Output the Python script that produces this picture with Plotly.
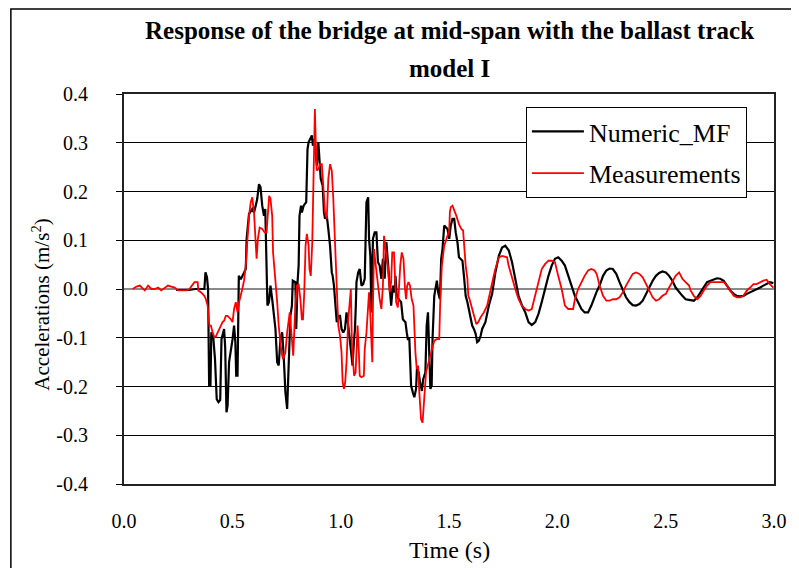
import plotly.graph_objects as go

# ---------------- data ----------------
t_num = [0.24, 0.30, 0.33, 0.371, 0.376, 0.383, 0.388, 0.393, 0.399, 0.403,
         0.412, 0.420, 0.428, 0.436, 0.444, 0.450, 0.462, 0.467, 0.473, 0.478,
         0.485, 0.493, 0.501, 0.508, 0.514, 0.518, 0.524, 0.530, 0.539, 0.550,
         0.562, 0.566, 0.577, 0.592, 0.600, 0.608, 0.615, 0.623, 0.630, 0.638,
         0.646, 0.652, 0.658, 0.662, 0.669, 0.676, 0.684, 0.691, 0.699, 0.707,
         0.714, 0.722, 0.730, 0.737, 0.745, 0.753, 0.760, 0.768, 0.775, 0.779,
         0.791, 0.795, 0.801, 0.806, 0.810, 0.817, 0.821, 0.829, 0.841, 0.847,
         0.852, 0.860, 0.867, 0.872, 0.878, 0.882, 0.890, 0.897, 0.902, 0.908,
         0.917, 0.923, 0.928, 0.936, 0.943, 0.951, 0.959, 0.963, 0.969, 0.975,
         0.982, 0.989, 0.997, 1.004, 1.012, 1.020, 1.027, 1.035, 1.043, 1.050,
         1.055, 1.061, 1.066, 1.070, 1.073, 1.081, 1.088, 1.096, 1.104, 1.111,
         1.119, 1.127, 1.131, 1.137, 1.142, 1.149, 1.157, 1.165, 1.172, 1.180,
         1.188, 1.195, 1.203, 1.211, 1.218, 1.226, 1.233, 1.241, 1.249, 1.253,
         1.259, 1.268, 1.279, 1.287, 1.299, 1.305, 1.310, 1.317, 1.320, 1.325,
         1.333, 1.340, 1.348, 1.352, 1.360, 1.366, 1.375, 1.381, 1.391, 1.397,
         1.403, 1.409, 1.414, 1.420, 1.424, 1.432, 1.437, 1.444, 1.450, 1.458,
         1.464, 1.470, 1.478, 1.485, 1.493, 1.501, 1.508, 1.516, 1.524, 1.531,
         1.539, 1.546, 1.562, 1.569, 1.577, 1.585, 1.592, 1.600, 1.607, 1.615,
         1.623, 1.630, 1.638, 1.646, 1.653, 1.668, 1.684, 1.699, 1.714, 1.730,
         1.745, 1.760, 1.776, 1.791, 1.806, 1.821, 1.837, 1.852, 1.867, 1.882,
         1.898, 1.913, 1.928, 1.943, 1.959, 1.974, 1.989, 2.004, 2.020, 2.035,
         2.050, 2.065, 2.081, 2.096, 2.111, 2.126, 2.142, 2.157, 2.172, 2.182,
         2.195, 2.211, 2.226, 2.241, 2.256, 2.272, 2.287, 2.302, 2.317, 2.333,
         2.348, 2.363, 2.379, 2.394, 2.409, 2.424, 2.440, 2.455, 2.470, 2.485,
         2.501, 2.516, 2.531, 2.546, 2.562, 2.577, 2.592, 2.608, 2.630, 2.646,
         2.661, 2.676, 2.691, 2.707, 2.722, 2.737, 2.752, 2.768, 2.783, 2.798,
         2.814, 2.829, 2.844, 2.859, 2.875, 2.890, 2.905, 2.920, 2.936, 2.951,
         2.966, 2.981, 2.997]
a_num = [-0.002, -0.002, 0.0, 0.0, 0.034, 0.024, 0.0, -0.198, -0.198, -0.089,
         -0.099, -0.144, -0.226, -0.232, -0.228, -0.103, -0.082, -0.120, -0.253, -0.240,
         -0.150, -0.130, -0.103, -0.075, -0.110, -0.178, -0.178, 0.027, 0.020, 0.030,
         0.041, 0.103, 0.154, 0.164, 0.157, 0.171, 0.185, 0.215, 0.209, 0.171,
         0.150, 0.164, 0.007, -0.034, -0.027, 0.007, -0.021, -0.058, -0.082, -0.150,
         -0.157, -0.103, -0.089, -0.137, -0.212, -0.246, -0.157, -0.055, -0.034, 0.017,
         0.014, -0.082, 0.014, 0.048, 0.150, 0.171, 0.157, 0.171, 0.178, 0.287,
         0.301, 0.308, 0.315, 0.294, 0.308, 0.294, 0.253, 0.301, 0.253, 0.226,
         0.212, 0.157, 0.144, 0.150, 0.123, 0.089, 0.034, 0.027, 0.007, -0.027,
         -0.068, -0.055, -0.055, -0.082, -0.089, -0.082, -0.048, -0.075, -0.103, -0.137,
         -0.157, -0.109, -0.082, -0.034, 0.014, 0.034, 0.041, 0.007, 0.010, 0.021,
         0.178, 0.188, 0.103, 0.068, -0.048, 0.103, 0.116, 0.116, 0.055, 0.048,
         0.021, 0.062, 0.021, 0.096, 0.055, -0.007, -0.034, 0.007, -0.007, 0.027,
         -0.014, -0.021, -0.027, -0.062, -0.068, -0.089, -0.103, -0.103, -0.157, -0.198,
         -0.212, -0.222, -0.205, -0.164, -0.171, -0.191, -0.209, -0.185, -0.171, -0.075,
         -0.048, -0.130, -0.205, -0.198, -0.103, -0.014, 0.0, 0.017, -0.007, -0.021,
         0.062, 0.082, 0.130, 0.126, 0.123, 0.103, 0.130, 0.144, 0.144, 0.116,
         0.096, 0.065, 0.058, 0.027, -0.014, -0.027, -0.041, -0.055, -0.075, -0.082,
         -0.092, -0.109, -0.106, -0.096, -0.082, -0.068, -0.034, -0.010, 0.034, 0.068,
         0.085, 0.089, 0.079, 0.055, 0.021, -0.014, -0.034, -0.048, -0.068, -0.074,
         -0.068, -0.051, -0.027, 0.0, 0.027, 0.048, 0.062, 0.065, 0.058, 0.048,
         0.027, 0.007, -0.014, -0.027, -0.041, -0.048, -0.048, -0.034, -0.014, -0.005,
         0.007, 0.027, 0.038, 0.042, 0.041, 0.031, 0.014, -0.003, -0.017, -0.027,
         -0.033, -0.034, -0.031, -0.024, -0.010, 0.003, 0.017, 0.027, 0.033, 0.036,
         0.034, 0.027, 0.017, 0.003, -0.007, -0.014, -0.021, -0.022, -0.024, -0.017,
         -0.007, 0.003, 0.014, 0.017, 0.019, 0.022, 0.021, 0.017, 0.007, -0.003,
         -0.010, -0.014, -0.015, -0.014, -0.010, -0.007, -0.003, 0.0, 0.003, 0.007,
         0.010, 0.014, 0.012]

t_meas = [0.040, 0.058, 0.073, 0.089, 0.096, 0.111, 0.127, 0.142, 0.157, 0.172,
          0.188, 0.203, 0.218, 0.234, 0.249, 0.272, 0.287, 0.302, 0.317, 0.325,
          0.340, 0.343, 0.356, 0.371, 0.378, 0.386, 0.394, 0.401, 0.409, 0.417,
          0.424, 0.432, 0.440, 0.447, 0.455, 0.462, 0.470, 0.478, 0.485, 0.493,
          0.501, 0.508, 0.516, 0.524, 0.531, 0.539, 0.546, 0.554, 0.562, 0.569,
          0.577, 0.585, 0.592, 0.600, 0.608, 0.612, 0.618, 0.626, 0.638, 0.649,
          0.658, 0.664, 0.670, 0.676, 0.684, 0.688, 0.699, 0.707, 0.714, 0.722,
          0.727, 0.734, 0.740, 0.745, 0.753, 0.760, 0.765, 0.771, 0.781, 0.791,
          0.798, 0.806, 0.814, 0.821, 0.826, 0.832, 0.838, 0.844, 0.852, 0.856,
          0.862, 0.869, 0.875, 0.881, 0.885, 0.890, 0.898, 0.905, 0.913, 0.920,
          0.928, 0.936, 0.943, 0.951, 0.959, 0.966, 0.974, 0.978, 0.985, 0.989,
          0.997, 1.004, 1.009, 1.015, 1.021, 1.027, 1.035, 1.043, 1.047, 1.052,
          1.058, 1.062, 1.069, 1.073, 1.078, 1.084, 1.088, 1.096, 1.107, 1.111,
          1.119, 1.127, 1.131, 1.137, 1.142, 1.146, 1.149, 1.154, 1.162, 1.168,
          1.174, 1.180, 1.188, 1.195, 1.200, 1.204, 1.211, 1.218, 1.223, 1.226,
          1.233, 1.238, 1.246, 1.256, 1.264, 1.268, 1.275, 1.282, 1.290, 1.297,
          1.302, 1.307, 1.313, 1.320, 1.328, 1.336, 1.340, 1.345, 1.351, 1.357,
          1.363, 1.371, 1.378, 1.383, 1.389, 1.394, 1.406, 1.417, 1.424, 1.432,
          1.443, 1.455, 1.459, 1.467, 1.478, 1.488, 1.501, 1.504, 1.508, 1.516,
          1.523, 1.534, 1.546, 1.557, 1.565, 1.569, 1.577, 1.585, 1.589, 1.595,
          1.604, 1.612, 1.620, 1.626, 1.635, 1.646, 1.661, 1.676, 1.691, 1.705,
          1.714, 1.730, 1.745, 1.768, 1.775, 1.791, 1.806, 1.821, 1.836, 1.852,
          1.867, 1.882, 1.898, 1.913, 1.928, 1.943, 1.959, 1.974, 1.989, 2.004,
          2.020, 2.035, 2.050, 2.073, 2.081, 2.096, 2.111, 2.126, 2.142, 2.157,
          2.172, 2.182, 2.195, 2.211, 2.226, 2.241, 2.256, 2.272, 2.287, 2.302,
          2.317, 2.333, 2.348, 2.363, 2.379, 2.394, 2.409, 2.424, 2.440, 2.455,
          2.470, 2.485, 2.501, 2.516, 2.531, 2.546, 2.562, 2.577, 2.592, 2.608,
          2.615, 2.630, 2.646, 2.661, 2.676, 2.691, 2.707, 2.737, 2.768, 2.783,
          2.798, 2.814, 2.829, 2.844, 2.859, 2.875, 2.890, 2.905, 2.920, 2.936,
          2.951, 2.966, 2.981, 2.997]
a_meas = [0.0, 0.005, 0.007, 0.0, -0.003, 0.007, 0.0, 0.0, 0.003, -0.003,
          0.003, 0.007, 0.005, 0.003, -0.003, -0.003, -0.003, 0.0, 0.010, 0.014,
          0.014, -0.003, -0.007, -0.014, -0.021, -0.034, -0.075, -0.075, -0.089, -0.099,
          -0.097, -0.089, -0.082, -0.075, -0.068, -0.065, -0.055, -0.055, -0.058, -0.062,
          -0.068, -0.041, -0.027, -0.048, -0.027, -0.014, 0.0, 0.017, 0.048, 0.096,
          0.150, 0.178, 0.188, 0.157, 0.103, 0.062, 0.103, 0.126, 0.123, 0.116,
          0.116, 0.157, 0.191, 0.185, 0.150, 0.075, 0.021, -0.027, -0.075, -0.109,
          -0.130, -0.144, -0.137, -0.130, -0.089, -0.062, -0.048, -0.082, -0.137, -0.034,
          0.007, 0.010, -0.021, -0.062, -0.062, -0.007, 0.089, 0.113, 0.089, 0.041,
          0.027, 0.096, 0.267, 0.369, 0.301, 0.243, 0.246, 0.256, 0.256, 0.212,
          0.157, 0.144, 0.226, 0.256, 0.243, 0.185, 0.103, 0.048, -0.021, -0.075,
          -0.096, -0.130, -0.191, -0.205, -0.191, -0.150, -0.062, -0.014, 0.0, -0.116,
          -0.157, -0.178, -0.171, -0.116, -0.075, -0.130, -0.178, -0.181, -0.178, -0.123,
          -0.089, -0.034, -0.007, -0.055, -0.109, -0.150, -0.034, 0.082, 0.048, 0.021,
          0.0, -0.021, -0.041, 0.007, 0.109, 0.089, 0.068, 0.048, 0.014, -0.007,
          0.014, 0.075, 0.075, -0.027, -0.038, 0.007, 0.048, 0.075, 0.062, 0.0,
          -0.021, 0.007, 0.014, 0.007, -0.021, -0.034, -0.089, -0.130, -0.164, -0.157,
          -0.212, -0.267, -0.274, -0.239, -0.191, -0.171, -0.150, -0.130, -0.123, -0.106,
          -0.103, -0.103, -0.034, 0.048, 0.089, 0.103, 0.120, 0.157, 0.168, 0.171,
          0.164, 0.150, 0.133, 0.123, 0.120, 0.096, 0.048, 0.021, -0.014, -0.021,
          -0.034, -0.048, -0.062, -0.072, -0.068, -0.058, -0.048, -0.034, -0.007, 0.024,
          0.041, 0.065, 0.068, 0.065, 0.048, 0.021, 0.0, -0.021, -0.034, -0.041,
          -0.044, -0.041, -0.014, 0.014, 0.041, 0.051, 0.058, 0.058, 0.055, 0.027,
          0.0, -0.034, -0.041, -0.041, -0.021, 0.0, 0.014, 0.027, 0.038, 0.041,
          0.038, 0.030, 0.007, -0.014, -0.024, -0.024, -0.021, -0.021, -0.017, -0.007,
          0.007, 0.021, 0.031, 0.034, 0.031, 0.024, 0.010, -0.003, -0.017, -0.024,
          -0.021, -0.014, -0.010, 0.003, 0.014, 0.027, 0.034, 0.021, 0.014, 0.007,
          -0.003, -0.014, -0.021, -0.014, -0.003, 0.007, 0.014, 0.014, 0.014, 0.007,
          -0.003, -0.014, -0.017, -0.017, -0.014, -0.003, 0.003, 0.010, 0.010, 0.014,
          0.017, 0.019, 0.010, 0.003]

assert len(t_num) == len(a_num), (len(t_num), len(a_num))
assert len(t_meas) == len(a_meas), (len(t_meas), len(a_meas))

series_names = ["Numeric_MF", "Measurements"]
series_colors = ["#000000", "#ff0000"]

x_ticks = [0.0, 0.5, 1.0, 1.5, 2.0, 2.5, 3.0]
x_ticktext = ["0.0", "0.5", "1.0", "1.5", "2.0", "2.5", "3.0"]
y_ticks = [-0.4, -0.3, -0.2, -0.1, 0.0, 0.1, 0.2, 0.3, 0.4]
y_ticktext = ["-0.4", "-0.3", "-0.2", "-0.1", "0.0", "0.1", "0.2", "0.3", "0.4"]
zero_ticks = [0.25 * i for i in range(1, 12)]

title_lines = ["Response of the bridge at mid-span with the ballast track", "model I"]
x_title = "Time (s)"
y_title = "Accelerations (m/s<sup>2</sup>)"

FONT = "Liberation Serif, Times New Roman, serif"

fig = go.Figure()
fig.add_trace(go.Scatter(x=t_num, y=a_num, mode="lines", name=series_names[0],
                         line=dict(color=series_colors[0], width=2.2),
                         legendgroup="a"))
fig.add_trace(go.Scatter(x=t_meas, y=a_meas, mode="lines", name=series_names[1],
                         line=dict(color=series_colors[1], width=1.8),
                         legendgroup="b"))

# the page body has an 8 px margin: figure is sized so it ends at the window edge
OFF = 8
W, H = 799 - OFF, 568 - OFF
PL, PR, PT, PB = 124, 779, 94, 484          # plot area in page pixels
L, R, T, B = PL - OFF, W - (PR - OFF), PT - OFF, H - (PB - OFF)
pw, ph = PR - PL, PB - PT


def px_x(x):
    return (x - PL) / pw


def px_y(y):
    return (PB - y) / ph


fig.update_layout(
    width=W, height=H,
    margin=dict(l=L, r=R, t=T, b=B),
    paper_bgcolor="white", plot_bgcolor="white",
    font=dict(family=FONT, color="black", size=20),
    showlegend=True,
    legend=dict(x=px_x(529), y=px_y(107), xanchor="left", yanchor="top",
                bgcolor="white", bordercolor="black", borderwidth=1,
                font=dict(family=FONT, size=26, color="black"),
                traceorder="grouped", tracegroupgap=5,
                itemwidth=52),
    xaxis=dict(range=[0, 3], tickvals=x_ticks, ticktext=x_ticktext,
               showgrid=False, zeroline=False, ticks="",
               showline=True, mirror=True, linecolor="#222", linewidth=2,
               ticklabelstandoff=18,
               tickfont=dict(family=FONT, size=20)),
    xaxis2=dict(range=[0, 3], overlaying="x", anchor="free", position=0.5,
                side="top", tickvals=zero_ticks, ticks="outside", ticklen=5,
                tickcolor="#333", showticklabels=False, showgrid=False,
                zeroline=False, showline=False),
    yaxis=dict(range=[-0.4, 0.4], tickvals=y_ticks, ticktext=y_ticktext,
               showgrid=True, gridcolor="black", gridwidth=1,
               zeroline=True, zerolinecolor="#8a8a8a", zerolinewidth=2,
               ticks="outside", ticklen=6, tickcolor="black",
               showline=True, mirror=True, linecolor="#222", linewidth=2,
               ticklabelstandoff=24,
               tickfont=dict(family=FONT, size=20)),
    annotations=[
        dict(text="<b>%s</b>" % title_lines[0], x=px_x(452), y=px_y(31),
             xref="paper", yref="paper", showarrow=False,
             font=dict(family=FONT, size=25), xanchor="center", yanchor="middle"),
        dict(text="<b>%s</b>" % title_lines[1], x=px_x(452), y=px_y(68),
             xref="paper", yref="paper", showarrow=False,
             font=dict(family=FONT, size=25), xanchor="center", yanchor="middle"),
        dict(text=x_title, x=px_x(452), y=px_y(550), xref="paper", yref="paper",
             showarrow=False, font=dict(family=FONT, size=24),
             xanchor="center", yanchor="middle"),
        dict(text=y_title, x=px_x(40), y=px_y(305), xref="paper", yref="paper",
             showarrow=False, textangle=-90, font=dict(family=FONT, size=21),
             xanchor="center", yanchor="middle"),
    ],
    shapes=[
        dict(type="rect", xref="paper", yref="paper",
             x0=px_x(10), x1=px_x(797), y0=px_y(600), y1=px_y(9),
             line=dict(color="black", width=1.5), layer="below"),
    ],
)

fig.write_html("out.html")
